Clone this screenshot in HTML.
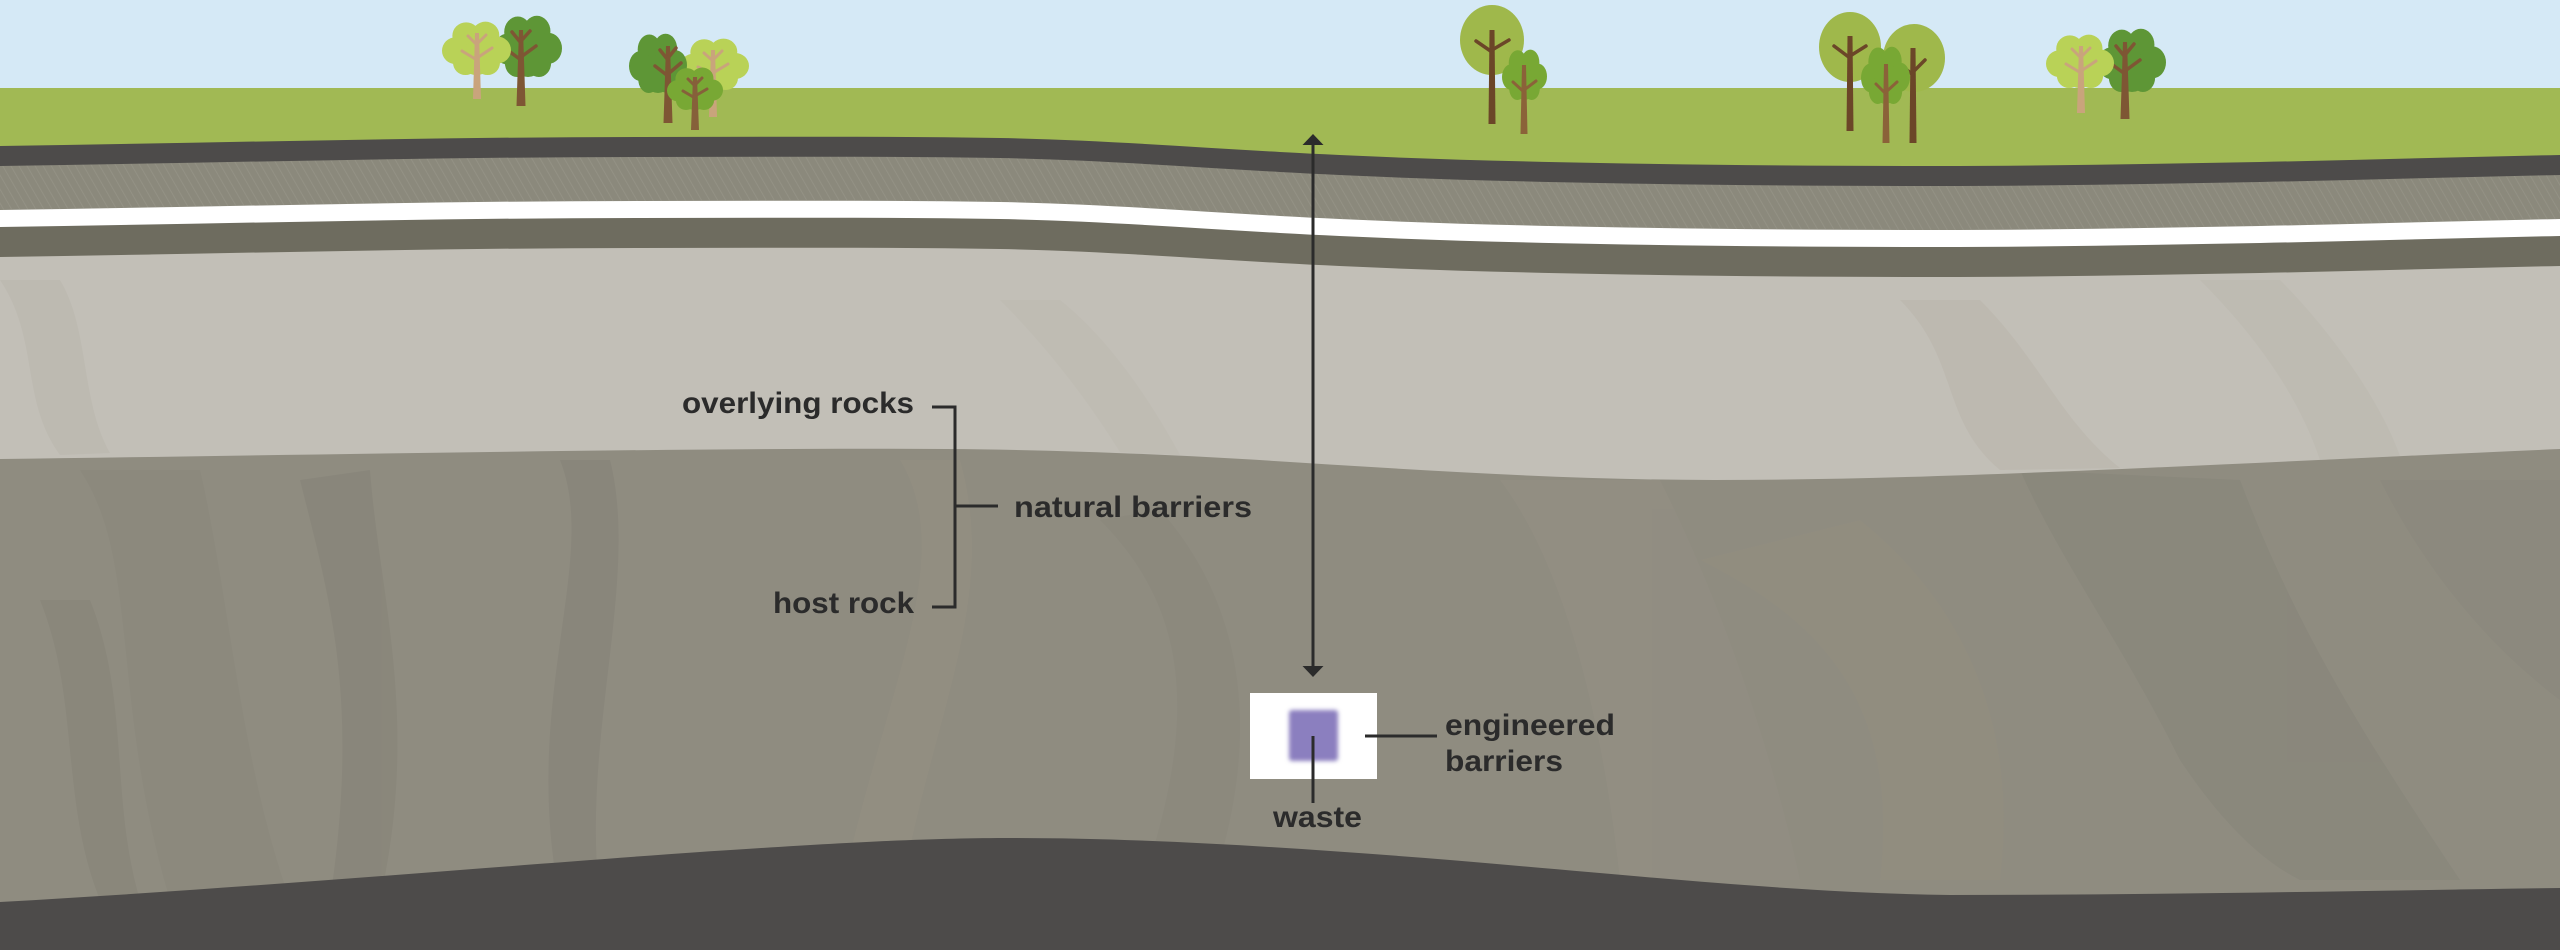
<!DOCTYPE html>
<html>
<head>
<meta charset="utf-8">
<style>
html,body{margin:0;padding:0;background:#8f8c80;}
svg{display:block;}
text{font-family:"Liberation Sans",sans-serif;font-weight:bold;fill:#2b2b2b;}
</style>
</head>
<body>
<svg width="2560" height="950" viewBox="0 0 2560 950" xmlns="http://www.w3.org/2000/svg">
<defs>
  <path id="band" d="M0,0 L0,146 C213,143 427,137 640,137 C760,137 880,136 1000,138 C1100,140 1190,147 1280,152 C1390,158 1490,161 1600,163 C1710,165 1820,166 1933,166 C2040,166 2150,164 2260,162 C2360,160 2460,157 2560,155 L2560,0 Z"/>
  <pattern id="hatch" patternUnits="userSpaceOnUse" width="7" height="7" patternTransform="rotate(-30)">
    <line x1="0" y1="0" x2="0" y2="7" stroke="#9d9b8f" stroke-width="1.6"/>
  </pattern>
  <g id="canA">
    <ellipse cx="50" cy="44" rx="36" ry="30"/>
    <circle cx="35" cy="22" r="20"/>
    <circle cx="63" cy="21" r="20"/>
    <circle cx="20" cy="44" r="20"/>
    <circle cx="80" cy="43" r="20"/>
    <circle cx="50" cy="55" r="25"/>
    <circle cx="34" cy="62" r="18"/>
    <circle cx="66" cy="62" r="18"/>
  </g>
  <filter id="blur" x="-30%" y="-30%" width="160%" height="160%"><feGaussianBlur stdDeviation="2.2"/></filter>
</defs>

<!-- host rock base -->
<rect x="0" y="0" width="2560" height="950" fill="#8f8c80"/>
<!-- host rock texture -->
<g opacity="0.28">
  <path d="M80,470 C140,560 110,700 170,900 L290,900 C240,760 230,600 200,470 Z" fill="#868378"/>
  <path d="M300,480 C330,600 360,700 330,900 L380,900 C420,720 380,600 370,470 Z" fill="#7d7a70"/>
  <path d="M560,460 C600,560 520,700 560,900 L600,900 C580,740 640,580 610,460 Z" fill="#7b786e"/>
  <path d="M900,460 C960,560 880,700 840,900 L900,900 C930,720 1000,600 960,460 Z" fill="#9a9585"/>
  <path d="M1500,480 C1560,560 1600,700 1620,880 L1800,880 C1760,700 1700,560 1660,480 Z" fill="#99938a"/>
  <path d="M1700,560 C1820,620 1900,700 1880,880 L2000,880 C2020,720 1960,600 1860,520 Z" fill="#97907f"/>
  <path d="M2020,470 C2060,560 2120,640 2180,760 C2220,820 2260,860 2300,880 L2460,880 C2380,760 2300,640 2240,480 Z" fill="#7f7d74"/>
  <path d="M2380,480 C2420,560 2480,640 2560,700 L2560,480 Z" fill="#868379"/>
  <path d="M40,600 C80,700 60,800 100,900 L140,900 C110,800 130,700 90,600 Z" fill="#7e7b71"/>
  <path d="M1100,520 C1180,600 1200,700 1150,860 L1220,860 C1260,720 1240,600 1160,510 Z" fill="#858276"/>
</g>
<!-- bottom dark -->
<path d="M0,902 C250,888 500,866 700,852 C850,842 930,838 1012,838 C1150,838 1300,848 1450,860 C1650,877 1800,893 1950,895 C2150,895 2350,891 2560,888 L2560,950 L0,950 Z" fill="#4d4b4a"/>
<!-- light gray overlying rocks -->
<path d="M0,0 L0,459 C160,457 330,454 490,452 C640,450 800,448 947,449 C1080,450 1200,456 1306,463 C1450,472 1580,480 1714,480 C1860,480 2000,474 2122,469 C2280,462 2420,455 2560,449 L2560,0 Z" fill="#c2bfb7"/>
<g opacity="0.3">
  <path d="M0,280 C40,340 20,400 60,455 L110,453 C80,400 90,330 60,280 Z" fill="#b4b0a7"/>
  <path d="M1900,300 C1960,360 1940,420 2000,470 L2120,468 C2060,420 2040,360 1980,300 Z" fill="#b2ada3"/>
  <path d="M2200,280 C2260,340 2300,400 2320,460 L2400,456 C2380,400 2330,330 2280,280 Z" fill="#b6b2a9"/>
  <path d="M1000,300 C1060,360 1100,420 1120,452 L1180,455 C1150,400 1110,340 1060,300 Z" fill="#bab6ad"/>
</g>
<!-- olive band -->
<use href="#band" transform="translate(0,111)" fill="#6e6c5f"/>
<!-- white band -->
<use href="#band" transform="translate(0,81)" fill="#ffffff"/>
<!-- hatched band -->
<use href="#band" transform="translate(0,64)" fill="#8b897c"/>
<use href="#band" transform="translate(0,64)" fill="url(#hatch)" opacity="0.55"/>
<!-- dark band -->
<use href="#band" transform="translate(0,20)" fill="#4d4b4a"/>
<!-- grass -->
<use href="#band" fill="#a1b954"/>
<!-- sky -->
<rect x="0" y="0" width="2560" height="88" fill="#d5e9f6"/>

<!-- Trees group 1 -->
<g>
  <use href="#canA" transform="translate(494,15) scale(0.68,0.775)" fill="#5e9636"/>
  <polygon points="516.5,106 519,30 523,30 525.5,106" fill="#7e5634"/>
  <g stroke="#7e5634" stroke-width="3.5" stroke-linecap="round">
    <line x1="521" y1="43" x2="512" y2="32"/><line x1="521" y1="41" x2="530" y2="31"/>
    <line x1="521" y1="60" x2="506" y2="49"/><line x1="521" y1="57" x2="536" y2="46"/>
  </g>
  <use href="#canA" transform="translate(442,21) scale(0.69,0.675)" fill="#b9d257"/>
  <polygon points="473,99 475,33 479,33 481,99" fill="#c9a47c"/>
  <g stroke="#c9a47c" stroke-width="3" stroke-linecap="round">
    <line x1="477" y1="45" x2="468" y2="36"/><line x1="477" y1="44" x2="486" y2="35"/>
    <line x1="477" y1="60" x2="462" y2="51"/><line x1="477" y1="58" x2="492" y2="48"/>
  </g>
</g>
<!-- Trees group 2 -->
<g>
  <use href="#canA" transform="translate(680,38) scale(0.69,0.65)" fill="#b9d257"/>
  <polygon points="709,117 711,50 715,50 717,117" fill="#c9a47c"/>
  <g stroke="#c9a47c" stroke-width="3" stroke-linecap="round">
    <line x1="713" y1="61" x2="704" y2="53"/><line x1="713" y1="60" x2="722" y2="51"/>
    <line x1="713" y1="75" x2="698" y2="67"/><line x1="713" y1="73" x2="728" y2="64"/>
  </g>
  <use href="#canA" transform="translate(629,33) scale(0.58,0.75)" fill="#5e9636"/>
  <polygon points="663.5,123 666,46 670,46 672.5,123" fill="#7e5634"/>
  <g stroke="#7e5634" stroke-width="3.5" stroke-linecap="round">
    <line x1="668" y1="60" x2="660" y2="50"/><line x1="668" y1="58" x2="676" y2="48"/>
    <line x1="668" y1="76" x2="655" y2="66"/><line x1="668" y1="74" x2="681" y2="63"/>
  </g>
  <use href="#canA" transform="translate(667,67) scale(0.56,0.5375)" fill="#78a834"/>
  <polygon points="691,130 693,77 697,77 699,130" fill="#86603a"/>
  <g stroke="#86603a" stroke-width="3" stroke-linecap="round">
    <line x1="695" y1="86" x2="688" y2="79"/><line x1="695" y1="85" x2="702" y2="78"/>
    <line x1="695" y1="98" x2="683" y2="91"/><line x1="695" y1="96" x2="707" y2="89"/>
  </g>
</g>
<!-- Trees group 3 -->
<g>
  <ellipse cx="1492" cy="40" rx="32" ry="35" fill="#9fb84b"/>
  <polygon points="1488.5,124 1489.5,30 1494.5,30 1495.5,124" fill="#6b4628"/>
  <g stroke="#6b4628" stroke-width="3.5" stroke-linecap="round">
    <line x1="1492" y1="52" x2="1476" y2="41"/><line x1="1492" y1="50" x2="1509" y2="40"/>
  </g>
  <use href="#canA" transform="translate(1502,49) scale(0.45,0.6375)" fill="#78a834"/>
  <polygon points="1520.5,134 1522,65 1526,65 1527.5,134" fill="#8b6239"/>
  <g stroke="#8b6239" stroke-width="3" stroke-linecap="round">
    <line x1="1524" y1="92" x2="1513" y2="82"/><line x1="1524" y1="90" x2="1536" y2="81"/>
  </g>
</g>
<!-- Trees group 4 -->
<g>
  <ellipse cx="1850" cy="47" rx="31" ry="35" fill="#9fb84b"/>
  <polygon points="1846.5,131 1847.5,36 1852.5,36 1853.5,131" fill="#6b4628"/>
  <g stroke="#6b4628" stroke-width="3.5" stroke-linecap="round">
    <line x1="1850" y1="58" x2="1834" y2="46"/><line x1="1850" y1="56" x2="1866" y2="46"/>
  </g>
  <ellipse cx="1914" cy="58" rx="31" ry="34" fill="#9fb84b"/>
  <polygon points="1909.5,143 1910.5,48 1915.5,48 1916.5,143" fill="#6b4628"/>
  <g stroke="#6b4628" stroke-width="3.5" stroke-linecap="round">
    <line x1="1913" y1="72" x2="1925" y2="60"/><line x1="1913" y1="75" x2="1902" y2="66"/>
  </g>
  <use href="#canA" transform="translate(1861,46) scale(0.49,0.725)" fill="#78a834"/>
  <polygon points="1882.5,143 1884,64 1888,64 1889.5,143" fill="#8b6239"/>
  <g stroke="#8b6239" stroke-width="3" stroke-linecap="round">
    <line x1="1886" y1="94" x2="1876" y2="84"/><line x1="1886" y1="92" x2="1897" y2="82"/>
  </g>
</g>
<!-- Trees group 5 -->
<g>
  <use href="#canA" transform="translate(2098,28) scale(0.68,0.8)" fill="#5e9636"/>
  <polygon points="2120.5,119 2123,42 2127,42 2129.5,119" fill="#7e5634"/>
  <g stroke="#7e5634" stroke-width="3.5" stroke-linecap="round">
    <line x1="2125" y1="57" x2="2116" y2="46"/><line x1="2125" y1="55" x2="2134" y2="44"/>
    <line x1="2125" y1="74" x2="2110" y2="63"/><line x1="2125" y1="71" x2="2140" y2="60"/>
  </g>
  <use href="#canA" transform="translate(2046,34) scale(0.68,0.675)" fill="#b9d257"/>
  <polygon points="2077,113 2079,46 2083,46 2085,113" fill="#c9a47c"/>
  <g stroke="#c9a47c" stroke-width="3" stroke-linecap="round">
    <line x1="2081" y1="58" x2="2072" y2="49"/><line x1="2081" y1="57" x2="2090" y2="48"/>
    <line x1="2081" y1="73" x2="2066" y2="64"/><line x1="2081" y1="71" x2="2096" y2="61"/>
  </g>
</g>

<!-- depth arrow -->
<line x1="1313" y1="143" x2="1313" y2="669" stroke="#2b2b2b" stroke-width="3"/>
<polygon points="1313,134 1323.5,145 1302.5,145" fill="#2b2b2b"/>
<polygon points="1313,677 1323.5,666 1302.5,666" fill="#2b2b2b"/>

<!-- natural barriers bracket -->
<g stroke="#2b2b2b" stroke-width="3" fill="none">
  <polyline points="932,407 955,407 955,607 932,607"/>
  <line x1="955" y1="506" x2="998" y2="506"/>
</g>
<text x="682" y="413" font-size="30" textLength="232" lengthAdjust="spacingAndGlyphs">overlying rocks</text>
<text x="1014" y="517" font-size="30" textLength="238" lengthAdjust="spacingAndGlyphs">natural barriers</text>
<text x="773" y="613" font-size="30" textLength="141" lengthAdjust="spacingAndGlyphs">host rock</text>

<!-- engineered barrier box -->
<rect x="1250" y="693" width="127" height="86" fill="#ffffff"/>
<rect x="1289" y="710" width="49" height="51" rx="3" fill="#8b7fbf" filter="url(#blur)"/>
<line x1="1313" y1="736" x2="1313" y2="803" stroke="#2b2b2b" stroke-width="3"/>
<line x1="1365" y1="736" x2="1437" y2="736" stroke="#2b2b2b" stroke-width="3"/>
<text x="1445" y="735" font-size="30" textLength="170" lengthAdjust="spacingAndGlyphs">engineered</text>
<text x="1445" y="771" font-size="30" textLength="118" lengthAdjust="spacingAndGlyphs">barriers</text>
<text x="1273" y="827" font-size="30" textLength="89" lengthAdjust="spacingAndGlyphs">waste</text>
</svg>
</body>
</html>
